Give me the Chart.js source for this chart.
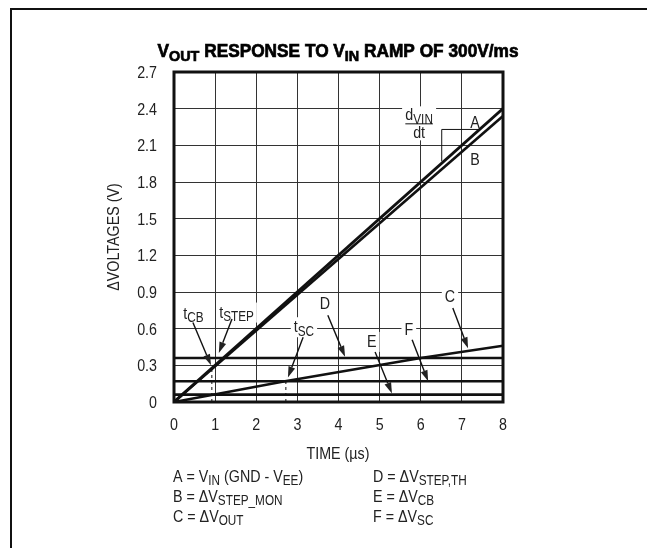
<!DOCTYPE html>
<html lang="en">
<head>
  <meta charset="UTF-8">
  <title>VOUT Response to VIN Ramp</title>
  <script src="https://cdn.jsdelivr.net/npm/chart.js@4.4.1/dist/chart.umd.min.js"></script>
  <style>
    html, body { margin: 0; padding: 0; background: #fff; }
    #wrap { width: 647px; height: 548px; }
  </style>
</head>
<body>
  <div id="wrap"><canvas id="chart" width="647" height="548"></canvas></div>

  <script>
    const FONT = "'Liberation Sans Narrow', 'Liberation Sans', Arial, sans-serif";
    const INK = '#111';
    const COND = 0.84; // horizontal squeeze, the original uses a condensed face

    // axes
    const timeTicks = [0, 1, 2, 3, 4, 5, 6, 7, 8];
    const voltTicks = [0, 0.3, 0.6, 0.9, 1.2, 1.5, 1.8, 2.1, 2.4, 2.7];
    const voltTickLabels = ['0', '0.3', '0.6', '0.9', '1.2', '1.5', '1.8', '2.1', '2.4', '2.7'];

    // A = VIN ramp, B = dVSTEP_MON (both 0 -> 8us)
    const rampTime = [0, 8];
    const vinValues = [0, 2.4];
    const stepMonValues = [0, 2.34];
    // C = dVOUT
    const voutTime = [0, 2.7, 6, 8];
    const voutValues = [0, 0.17, 0.36, 0.46];
    // D, E, F = threshold levels
    const levelTime = [0, 8];
    const stepThLevel = [0.36, 0.36];
    const cbLevel = [0.06, 0.06];
    const scLevel = [0.17, 0.17];
    // dashed markers tCB, tSC
    const tcbTime = [0.92, 0.92];
    const tcbValues = [0, 0.28];
    const tscTime = [2.72, 2.72];
    const tscValues = [0, 0.17];
    // slope bracket dVIN/dt
    const slopeTime = [6.51, 6.51, 7.44];
    const slopeValues = [1.97, 2.23, 2.23];

    const pts = (xs, ys) => xs.map((x, i) => ({ x, y: ys[i] }));

    // labels and arrows, in data units
    const notes = [
      { text: 't_{CB}', at: [0.47, 0.73], arrow: [[0.46, 0.65], [0.90, 0.30]] },
      { text: 't_{STEP}', at: [1.52, 0.74], arrow: [[1.41, 0.68], [1.09, 0.40]] },
      { text: 't_{SC}', at: [3.16, 0.62], arrow: [[3.14, 0.53], [2.77, 0.20]] },
      { text: 'D', at: [3.67, 0.81], arrow: [[3.74, 0.71], [4.16, 0.37]] },
      { text: 'E', at: [4.81, 0.50], arrow: [[4.89, 0.41], [5.30, 0.07]] },
      { text: 'F', at: [5.71, 0.60], arrow: [[5.79, 0.51], [6.18, 0.17]] },
      { text: 'C', at: [6.71, 0.87], arrow: [[6.78, 0.77], [7.15, 0.44]] },
      { text: 'A', at: [7.32, 2.29] },
      { text: 'B', at: [7.32, 1.99] }
    ];

    const legendLeft = ['A = V_{IN} (GND - V_{EE})', 'B = \u0394V_{STEP_MON}', 'C = \u0394V_{OUT}'];
    const legendRight = ['D = \u0394V_{STEP,TH}', 'E = \u0394V_{CB}', 'F = \u0394V_{SC}'];

    // --- rich text with subscripts: "V_{IN}" ---
    function parseRich(s) {
      const parts = [];
      const re = /_\{([^}]*)\}/g;
      let last = 0, m;
      while ((m = re.exec(s))) {
        if (m.index > last) parts.push({ t: s.slice(last, m.index), sub: false });
        parts.push({ t: m[1], sub: true });
        last = re.lastIndex;
      }
      if (last < s.length) parts.push({ t: s.slice(last), sub: false });
      return parts;
    }
    function fontFor(size, sub, weight) {
      return `${weight || 'normal'} ${sub ? Math.round(size * 0.84) : size}px ${FONT}`;
    }
    function richWidth(ctx, s, size, weight, sx) {
      let w = 0;
      parseRich(s).forEach(p => { ctx.font = fontFor(size, p.sub, weight); w += ctx.measureText(p.t).width; });
      return w * (sx || COND);
    }
    // y = baseline
    function drawRich(ctx, s, x, y, size, align, weight, sx, heavy) {
      sx = sx || COND;
      const w = richWidth(ctx, s, size, weight, sx);
      const x0 = align === 'center' ? x - w / 2 : (align === 'right' ? x - w : x);
      ctx.save();
      ctx.translate(x0, y);
      ctx.scale(sx, 1);
      ctx.textAlign = 'left';
      ctx.textBaseline = 'alphabetic';
      let cx = 0;
      parseRich(s).forEach(p => {
        ctx.font = fontFor(size, p.sub, weight);
        const dy = p.sub ? size * 0.2 : 0;
        ctx.fillText(p.t, cx, dy);
        if (heavy) { ctx.lineWidth = heavy; ctx.strokeText(p.t, cx, dy); }
        cx += ctx.measureText(p.t).width;
      });
      ctx.restore();
      return w;
    }
    function drawArrow(ctx, x0, y0, x1, y1) {
      const a = Math.atan2(y1 - y0, x1 - x0);
      const len = 11, half = 3.5;
      const bx = x1 - len * Math.cos(a), by = y1 - len * Math.sin(a);
      ctx.lineWidth = 1.4;
      ctx.beginPath();
      ctx.moveTo(x0, y0);
      ctx.lineTo(bx, by);
      ctx.stroke();
      ctx.beginPath();
      ctx.moveTo(x1, y1);
      ctx.lineTo(bx + half * Math.sin(a), by - half * Math.cos(a));
      ctx.lineTo(bx - half * Math.sin(a), by + half * Math.cos(a));
      ctx.closePath();
      ctx.fill();
    }

    const NOTE_SIZE = 17;
    const TICK_SIZE = 17;
    const TEXT_SIZE = 17;

    const decorations = {
      id: 'decorations',
      beforeDraw(chart) {
        const ctx = chart.ctx;
        ctx.save();
        ctx.fillStyle = '#fff';
        ctx.fillRect(0, 0, chart.width, chart.height);
        // page frame (top + left)
        ctx.strokeStyle = INK;
        ctx.lineWidth = 2;
        ctx.beginPath();
        ctx.moveTo(11, chart.height);
        ctx.lineTo(11, 9);
        ctx.lineTo(chart.width, 9);
        ctx.stroke();
        ctx.restore();
      },
      beforeDatasetsDraw(chart) {
        // white boxes behind labels so grid lines break around them
        const ctx = chart.ctx, xs = chart.scales.x, ys = chart.scales.y;
        ctx.save();
        ctx.fillStyle = '#fff';
        notes.forEach(n => {
          const w = richWidth(ctx, n.text, NOTE_SIZE);
          const cx = xs.getPixelForValue(n.at[0]), cy = ys.getPixelForValue(n.at[1]);
          ctx.fillRect(cx - w / 2 - 3, cy - 9, w + 6, 20);
        });
        const fx = xs.getPixelForValue(5.96);
        const fy = ys.getPixelForValue(2.28);
        ctx.fillRect(fx - 17, fy - 17, 34, 34);
        ctx.restore();
      },
      afterDatasetsDraw(chart) {
        const ctx = chart.ctx, xs = chart.scales.x, ys = chart.scales.y;
        const area = chart.chartArea;
        ctx.save();
        // plot frame
        ctx.strokeStyle = INK;
        ctx.lineWidth = 3;
        ctx.strokeRect(area.left, area.top, area.right - area.left, area.bottom - area.top);

        ctx.fillStyle = '#222';
        ctx.strokeStyle = INK;

        // tick labels, placed by the scales
        timeTicks.forEach(v => drawRich(ctx, String(v), xs.getPixelForValue(v), area.bottom + 28, TICK_SIZE, 'center'));
        voltTicks.forEach((v, i) => drawRich(ctx, voltTickLabels[i], 157, ys.getPixelForValue(v) + 6, TICK_SIZE, 'right'));

        notes.forEach(n => {
          const cx = xs.getPixelForValue(n.at[0]), cy = ys.getPixelForValue(n.at[1]);
          drawRich(ctx, n.text, cx, cy + NOTE_SIZE * 0.36, NOTE_SIZE, 'center');
          if (n.arrow) {
            const [p0, p1] = n.arrow;
            drawArrow(ctx, xs.getPixelForValue(p0[0]), ys.getPixelForValue(p0[1]),
              xs.getPixelForValue(p1[0]), ys.getPixelForValue(p1[1]));
          }
        });

        // dVIN / dt
        const fx = xs.getPixelForValue(5.96);
        const fy = ys.getPixelForValue(2.28);
        const nw = drawRich(ctx, 'd_{VIN}', fx, fy - 3, NOTE_SIZE, 'center');
        ctx.lineWidth = 1;
        ctx.beginPath();
        ctx.moveTo(fx - nw / 2, fy + 0.5);
        ctx.lineTo(fx + nw / 2, fy + 0.5);
        ctx.stroke();
        drawRich(ctx, 'dt', fx, fy + 15, NOTE_SIZE, 'center');

        // title, squeezed to the original's width
        ctx.fillStyle = '#000';
        ctx.strokeStyle = '#000';
        const title = 'V_{OUT} RESPONSE TO V_{IN} RAMP OF 300V/ms';
        const tsx = 361 / richWidth(ctx, title, 18, 'bold', 1);
        drawRich(ctx, title, 338, 57, 18, 'center', 'bold', tsx, 0.7);

        // axis titles
        ctx.fillStyle = '#222';
        drawRich(ctx, 'TIME (\u00b5s)', 338, 459, TEXT_SIZE, 'center');
        ctx.save();
        ctx.translate(119, 237);
        ctx.rotate(-Math.PI / 2);
        drawRich(ctx, '\u0394VOLTAGES (V)', 0, 0, TEXT_SIZE, 'center');
        ctx.restore();

        // legend
        legendLeft.forEach((s, i) => drawRich(ctx, s, 173, 482 + i * 20, TEXT_SIZE, 'left'));
        legendRight.forEach((s, i) => drawRich(ctx, s, 373, 482 + i * 20, TEXT_SIZE, 'left'));
        ctx.restore();
      }
    };

    const lineSet = (label, data, width, dash) => ({
      label, data, showLine: true, borderColor: INK, borderWidth: width,
      borderDash: dash || [], pointRadius: 0, fill: false, tension: 0
    });

    new Chart(document.getElementById('chart').getContext('2d'), {
      type: 'scatter',
      data: {
        datasets: [
          lineSet('A', pts(rampTime, vinValues), 2.8),
          lineSet('B', pts(rampTime, stepMonValues), 2.6),
          lineSet('C', pts(voutTime, voutValues), 2.6),
          lineSet('D', pts(levelTime, stepThLevel), 2.6),
          lineSet('E', pts(levelTime, cbLevel), 2.6),
          lineSet('F', pts(levelTime, scLevel), 2.6),
          lineSet('tCB', pts(tcbTime, tcbValues), 1, [3, 3]),
          lineSet('tSC', pts(tscTime, tscValues), 1, [3, 3]),
          lineSet('slope', pts(slopeTime, slopeValues), 1)
        ]
      },
      options: {
        responsive: false,
        animation: false,
        layout: { padding: { top: 72, right: 144, left: 0, bottom: 0 } },
        plugins: { legend: { display: false }, tooltip: { enabled: false } },
        scales: {
          x: {
            type: 'linear', min: 0, max: 8,
            afterBuildTicks: s => { s.ticks = timeTicks.map(v => ({ value: v })); },
            afterFit: s => { s.height = 146; },
            grid: { color: '#333', lineWidth: 1, drawTicks: false },
            border: { display: false },
            ticks: { display: false }
          },
          y: {
            type: 'linear', min: 0, max: 2.7,
            afterBuildTicks: s => { s.ticks = voltTicks.map(v => ({ value: v })); },
            afterFit: s => { s.width = 174; },
            grid: { color: '#333', lineWidth: 1, drawTicks: false },
            border: { display: false },
            ticks: { display: false }
          }
        }
      },
      plugins: [decorations]
    });
  </script>
</body>
</html>
